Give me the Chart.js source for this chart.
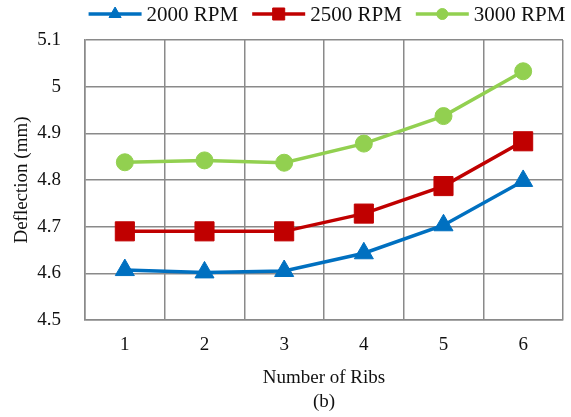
<!DOCTYPE html>
<html>
<head>
<meta charset="utf-8">
<script src="https://cdn.jsdelivr.net/npm/chart.js@4/dist/chart.umd.min.js"></script>
<style>
  html, body { margin: 0; padding: 0; background: #fff; }
</style>
</head>
<body>
<canvas id="chart-ribs" width="571" height="417"></canvas>
<script>
// values
const ribs = ['1', '2', '3', '4', '5', '6'];
const rpm2000 = [4.607, 4.602, 4.605, 4.643, 4.703, 4.798];
const rpm2500 = [4.690, 4.690, 4.690, 4.728, 4.787, 4.883];
const rpm3000 = [4.838, 4.842, 4.837, 4.878, 4.937, 5.033];
const seriesNames = ['2000 RPM', '2500 RPM', '3000 RPM'];

const FONT = '"Liberation Serif", "Times New Roman", serif';
const ink = '#111';

// line + marker legend, drawn above the plot like the original
const lineLegend = {
    id: 'lineLegend',
    afterDraw(chart) {
        const ctx = chart.ctx;
        const sets = chart.data.datasets;
        const lineLen = 53, gap = 5, between = 14, y = 14;
        ctx.save();
        ctx.font = '21px ' + FONT;
        let total = 0;
        sets.forEach((ds, i) => {
            total += lineLen + gap + ctx.measureText(ds.label).width;
            if (i < sets.length - 1) total += between;
        });
        const area = chart.chartArea;
        let x = (area.left + area.right) / 2 - total / 2 + 3;
        sets.forEach((ds) => {
            ctx.strokeStyle = ds.borderColor;
            ctx.lineWidth = 3.5;
            ctx.beginPath();
            ctx.moveTo(x, y);
            ctx.lineTo(x + lineLen, y);
            ctx.stroke();
            ctx.fillStyle = ds.borderColor;
            ctx.lineWidth = 1;
            Chart.helpers.drawPoint(ctx, {
                pointStyle: ds.pointStyle,
                radius: ds.legendRadius,
                borderWidth: 1,
                rotation: 0
            }, x + lineLen / 2, y);
            ctx.fillStyle = ink;
            ctx.textBaseline = 'middle';
            ctx.textAlign = 'left';
            ctx.fillText(ds.label, x + lineLen + gap, y + 1);
            x += lineLen + gap + ctx.measureText(ds.label).width + between;
        });
        ctx.restore();
    }
};

function makeSet(label, data, color, style, radius, legendRadius) {
    return {
        label,
        data,
        borderColor: color,
        backgroundColor: color,
        pointBackgroundColor: color,
        pointBorderColor: color,
        borderWidth: 3.5,
        pointStyle: style,
        pointRadius: radius,
        pointBorderWidth: 1,
        legendRadius,
        tension: 0,
        clip: false
    };
}

const options = {
    responsive: false,
    animation: false,
    layout: { autoPadding: false, padding: { left: 7, right: 8, top: 40, bottom: 3 } },
    plugins: {
        legend: { display: false },
        tooltip: { enabled: false }
    },
    scales: {
        x: {
            offset: true,
            afterFit: (scale) => { scale.height = 94; },
            grid: { offset: true, color: '#8a8a8a', lineWidth: 1.5, drawTicks: false },
            border: { color: '#8a8a8a', width: 1.5 },
            ticks: { color: ink, padding: 14, font: { family: FONT, size: 19 } },
            title: {
                display: true,
                text: ['Number of Ribs', '(b)'],
                color: ink,
                padding: { top: 0, bottom: 0 },
                font: { family: FONT, size: 19, lineHeight: 1.25 }
            }
        },
        y: {
            min: 4.5,
            max: 5.1,
            afterFit: (scale) => { scale.width = 78; },
            grid: { color: '#8a8a8a', lineWidth: 1.5, drawTicks: false },
            border: { color: '#8a8a8a', width: 1.5 },
            ticks: {
                stepSize: 0.1,
                color: ink,
                padding: 24,
                font: { family: FONT, size: 19 },
                callback: (v) => String(+v.toFixed(1))
            },
            title: {
                display: true,
                text: 'Deflection (mm)',
                color: ink,
                padding: { top: 4, bottom: 0 },
                font: { family: FONT, size: 19 }
            }
        }
    }
};

new Chart(document.getElementById('chart-ribs'), {
    type: 'line',
    data: {
        labels: ribs,
        datasets: [
            makeSet(seriesNames[0], rpm2000, '#0070C0', 'triangle', 11, 7),
            makeSet(seriesNames[1], rpm2500, '#C00000', 'rect', 13.5, 8.5),
            makeSet(seriesNames[2], rpm3000, '#92D050', 'circle', 8.5, 5.5)
        ]
    },
    options,
    plugins: [lineLegend]
});
</script>
</body>
</html>
